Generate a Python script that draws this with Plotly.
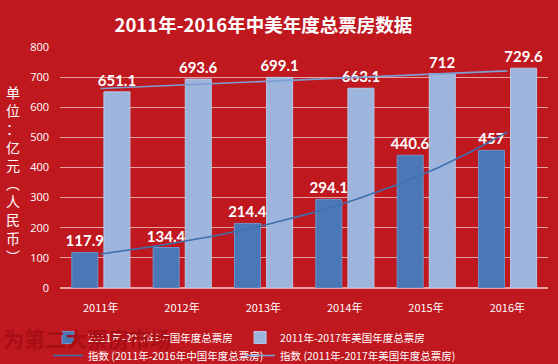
import numpy as np
import plotly.graph_objects as go

years = ["2011年", "2012年", "2013年", "2014年", "2015年", "2016年"]
china = [117.9, 134.4, 214.4, 294.1, 440.6, 457]
usa = [651.1, 693.6, 699.1, 663.1, 712, 729.6]
y_ticks = [0, 100, 200, 300, 400, 500, 600, 700, 800]

RED = "#C0181F"
xs = np.arange(len(years))

def exp_trend(vals, n=60):
    b, a = np.polyfit(xs + 1, np.log(vals), 1)
    t = np.linspace(0, len(vals) - 1, n)
    return t, np.exp(a + b * (t + 1))

tc_x, tc_y = exp_trend(china)
tu_x, tu_y = exp_trend(usa)

label_font = dict(color="white", size=15, family="Lato", weight="bold")

fig = go.Figure()
fig.add_trace(go.Bar(
    x=xs, y=china, name="2011年-2016年中国年度总票房",
    width=0.32, offset=-0.355,
    marker=dict(color="#4A78B6", line=dict(color="#6F93C8", width=1)),
    text=[f"{v:g}" for v in china], textposition="outside",
    textfont=label_font, constraintext="none",
    cliponaxis=False, legend="legend",
))
fig.add_trace(go.Bar(
    x=xs, y=usa, name="2011年-2017年美国年度总票房",
    width=0.32, offset=0.04,
    marker=dict(color="#9DB4DD", line=dict(color="#B8CAE8", width=1)),
    text=[f"{v:g}" for v in usa], textposition="outside",
    textfont=label_font, constraintext="none",
    cliponaxis=False, legend="legend2",
))
fig.add_trace(go.Scatter(
    x=tc_x, y=tc_y, mode="lines", name="指数 (2011年-2016年中国年度总票房)",
    line=dict(color="#3E70AE", width=1.6), legend="legend3",
))
fig.add_trace(go.Scatter(
    x=tu_x, y=tu_y, mode="lines", name="指数 (2011年-2017年美国年度总票房)",
    line=dict(color="#7D9ED2", width=1.6), legend="legend4",
))

legend_common = dict(orientation="h", xanchor="left", yanchor="top",
                     font=dict(size=10.5, color="white", family="Noto Sans CJK SC"),
                     bgcolor="rgba(0,0,0,0)")

fig.update_layout(
    width=558, height=364,
    paper_bgcolor=RED, plot_bgcolor=RED,
    margin=dict(l=60, r=10, t=47, b=76, autoexpand=False),
    barmode="overlay",
    font=dict(family="Noto Sans CJK SC", color="white"),
    title=dict(text="<b>2011年-2016年中美年度总票房数据</b>", x=0.472, xanchor="center",
               y=0.93, yanchor="middle",
               font=dict(size=18.5, color="white", family="Noto Sans CJK SC")),
    xaxis=dict(range=[-0.5, 5.5], tickvals=xs, ticktext=years, showgrid=False,
               zeroline=False, showline=False, ticks="", ticklabelstandoff=12,
               tickfont=dict(size=11, color="white", family="Noto Sans CJK SC")),
    yaxis=dict(range=[0, 800], tickvals=y_ticks, showgrid=True,
               gridcolor="#E8A2A4", gridwidth=1, zeroline=True, zerolinecolor="#E8A2A4",
               showline=False, ticks="", ticklabelstandoff=10,
               tickfont=dict(size=11, color="white", family="Open Sans")),
    legend=dict(x=-0.0246, y=-0.145, **legend_common),
    legend2=dict(x=0.369, y=-0.145, **legend_common),
    legend3=dict(x=-0.0246, y=-0.22, **legend_common),
    legend4=dict(x=0.369, y=-0.22, **legend_common),
    showlegend=True,
)

axis_title = "<br>".join(list("单位：亿元︵人民币︶"))
fig.add_annotation(text=axis_title, xref="paper", yref="paper", x=-0.096, y=0.475,
                   showarrow=False, font=dict(size=14, color="white", family="Noto Sans CJK SC"),
                   align="center", xanchor="center", yanchor="middle")
fig.add_annotation(text="<b>为第二大票房市场</b>", xref="paper", yref="paper", x=-0.12, y=-0.207,
                   showarrow=False, font=dict(size=21, color="#A80E16", family="Noto Sans CJK SC"),
                   xanchor="left", yanchor="middle")

fig.write_html(
    "out.html",
    config={"displayModeBar": False},
    post_script=(
        "document.body.style.margin='0';document.body.style.overflow='hidden';"
        "var anns=document.querySelectorAll('g.annotation');"
        "if(anns.length){var a=anns[anns.length-1];"
        "var svgs=document.querySelectorAll('svg.main-svg');"
        "svgs[svgs.length-1].appendChild(a);}"
    ),
)
